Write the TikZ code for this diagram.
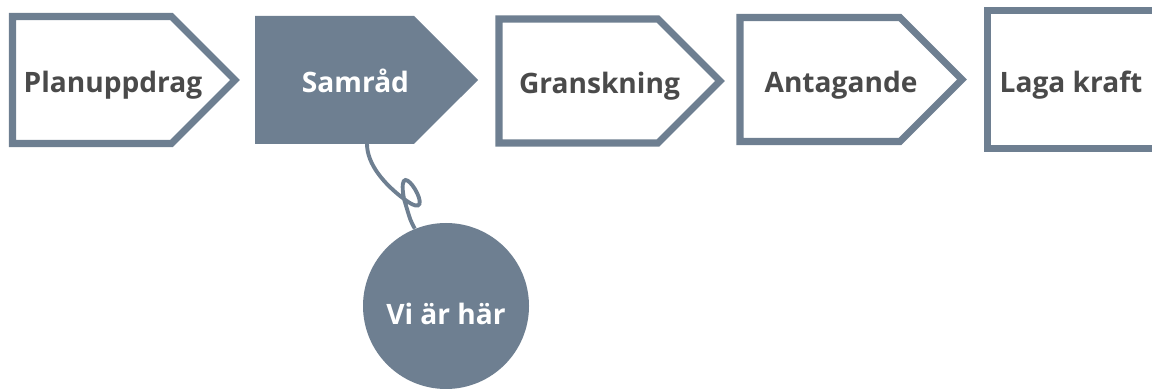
\documentclass[tikz,border=0pt]{standalone}
\usepackage{fontspec}
\setmainfont{Open Sans}
\usetikzlibrary{shapes.symbols,positioning}
\definecolor{plangray}{RGB}{110,127,145}
\definecolor{plantext}{RGB}{74,74,74}
\tikzset{
  Steg/.style={signal,signal to=east,signal pointer angle=90,draw=plangray,line width=4pt,
    minimum width=4.44cm,minimum height=2.5cm,inner sep=0pt,outer sep=0pt,anchor=west},
  AktivtSteg/.style={Steg,draw=none,fill=plangray},
  Stegtext/.style={font=\bfseries\fontsize{16}{18}\selectfont,text=plantext,
    text height=0.62cm,text depth=0.1cm,xshift=0.42cm},
  Slut/.style={rectangle,draw=plangray,line width=4pt,minimum width=3.36cm,minimum height=2.76cm,
    inner sep=0pt,outer sep=0pt,anchor=west,font=\bfseries\fontsize{16}{18}\selectfont,
    text=plantext,text height=0.62cm,text depth=0.1cm},
  Markor/.style={circle,fill=plangray,minimum size=3.32cm,inner sep=0pt,text=white,
    font=\bfseries\fontsize{16}{18}\selectfont,text height=0.86cm,text depth=0.1cm},
  Snore/.style={draw=plangray,line width=2.2pt}
}
\begin{document}
\begin{tikzpicture}
%
\useasboundingbox (0,0) rectangle (23.04cm,7.8cm);
%
\node[Steg,minimum width=4.45cm,minimum height=2.54cm,
  label={[Stegtext]center:Planuppdrag}] (planuppdrag) at (0.25cm,6.2cm) {};
\node[AktivtSteg,minimum width=4.46cm,minimum height=2.56cm,
  label={[Stegtext,text=white]center:Samråd}] (samrad) at (5.10cm,6.2cm) {};
\node[Steg,minimum width=4.42cm,minimum height=2.48cm,
  label={[Stegtext]center:Granskning}] (granskning) at (9.98cm,6.18cm) {};
\node[Steg,minimum width=4.44cm,minimum height=2.48cm,
  label={[Stegtext]center:Antagande}] (antagande) at (14.80cm,6.21cm) {};
\node[Slut] (lagakraft) at (19.74cm,6.21cm) {Laga kraft};
%
\node[Markor] (vi) at (8.92cm,1.68cm) {Vi är här};
\coordinate (knut) at (8.08cm,3.82cm);
%
\draw[Snore] ([xshift=0.65cm]samrad.south) .. controls +(0,-0.4) and +(-0.4,0.3) .. (knut)
  .. controls +(0.8,-0.6) and +(-0.2,1.1) .. (knut)
  .. controls +(0.15,-0.5) and +(-0.1,0.2) .. (vi.112);
%
\end{tikzpicture}
\end{document}
